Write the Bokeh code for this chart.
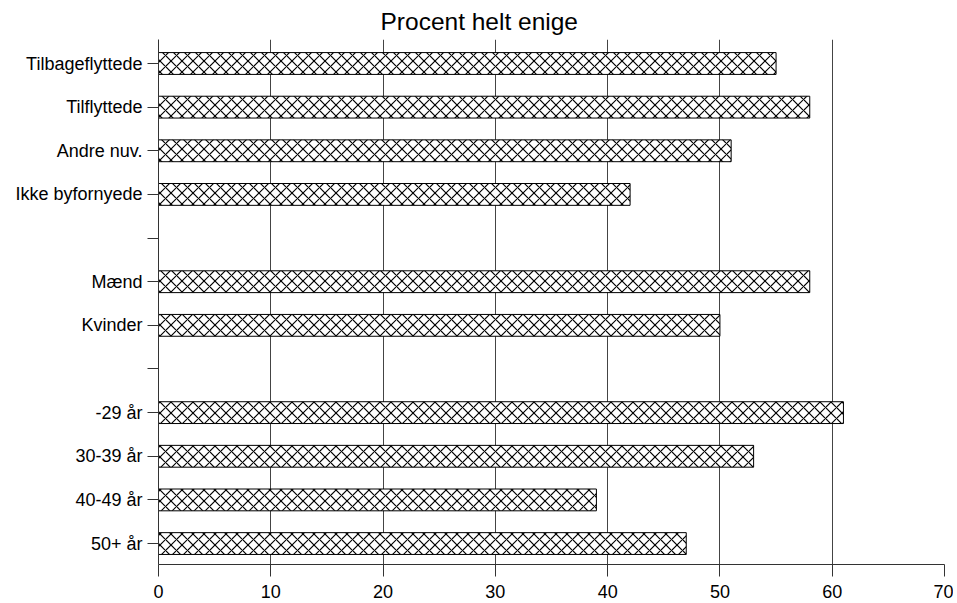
from bokeh.plotting import figure
from bokeh.models import Range1d, FixedTicker, Title
from bokeh.embed import file_html
from bokeh.resources import INLINE

categories = ["Tilbageflyttede", "Tilflyttede", "Andre nuv.", "Ikke byfornyede", "",
              "Mænd", "Kvinder", "",
              "-29 år", "30-39 år", "40-49 år", "50+ år"]
values = [55, 58, 51, 42, None, 58, 50, None, 61, 53, 39, 47]
x_ticks = [0, 10, 20, 30, 40, 50, 60, 70]

n = len(categories)
ys = [n - 1 - i for i in range(n)]
bar_y = [y for y, v in zip(ys, values) if v is not None]
bar_v = [v for v in values if v is not None]

p = figure(width=953, height=600, output_backend="svg", toolbar_location=None,
           x_range=Range1d(0, 70), y_range=Range1d(-0.48, n - 1 + 0.55),
           min_border_left=158, min_border_right=9, min_border_top=38, min_border_bottom=36)

p.title = Title(text="Procent helt enige", align="left", offset=222,
                text_font="Liberation Sans", text_font_size="24.5px",
                text_font_style="normal", text_color="black")

p.hbar(y=bar_y, right=bar_v, left=0, height=0.5, fill_color="white",
       line_color="black", line_width=1, hatch_pattern="diagonal_cross",
       hatch_color="black", hatch_scale=11, hatch_weight=1.2)

p.outline_line_color = None
p.ygrid.visible = False
p.xgrid.ticker = FixedTicker(ticks=x_ticks)
p.xgrid.grid_line_color = "#444444"
p.xgrid.grid_line_width = 1

p.xaxis.ticker = FixedTicker(ticks=x_ticks)
p.yaxis.ticker = FixedTicker(ticks=ys)
p.yaxis.major_label_overrides = {y: c for y, c in zip(ys, categories)}

for ax in (p.xaxis, p.yaxis):
    ax.axis_line_color = "#333333"
    ax.major_tick_line_color = "#333333"
    ax.minor_tick_line_color = None
    ax.major_tick_in = 0
    ax.major_label_text_font = "Liberation Sans"
    ax.major_label_text_font_size = "18px"
    ax.major_label_text_color = "black"
p.xaxis.major_tick_out = 12
p.xaxis.major_label_standoff = 8
p.yaxis.major_tick_out = 11

open("out.html", "w").write(file_html(p, INLINE))
